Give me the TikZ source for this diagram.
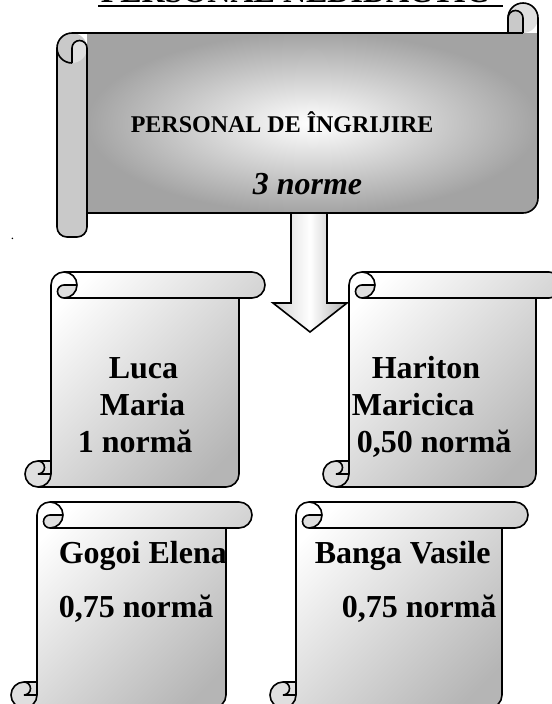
\documentclass[tikz,border=0pt]{standalone}
\usepackage{fontspec}
\setmainfont{Liberation Serif}

\pgfdeclarehorizontalshading{arrowshade}{100bp}{color(0bp)=(gray!35); color(25bp)=(gray!35); color(50bp)=(white); color(75bp)=(gray!62); color(100bp)=(gray!62)}

\tikzset{every picture/.style={line width=1.2pt}}
\tikzset{
  curl/.style={fill=gray!25},
  roll/.style={fill=gray!42},
  bigtxt/.style={font=\fontsize{24}{28}\selectfont\bfseries, inner sep=0pt, anchor=base west},
  pics/vscroll/.style n args={2}{code={
    %scroll face
    \shade [top color=white, bottom color=gray!58, shading angle=45] (26,{#2-26}) -- (26,13) arc (180:270:13) -- ({#1-13},0) arc (270:450:13) -- ({#1-26},26) -- ({#1-26},{#2-13}) arc (0:90:13) -- (13,#2) arc (90:270:13) -- cycle;
    %curls
    \fill [curl] (52,13) arc (0:90:13) arc (90:270:6.5) -- cycle;
    \fill [curl] (26,{#2-13}) arc (0:270:13) arc (270:450:6.5) -- cycle;
    %outline
    \draw [line join=round] (26,{#2-26}) -- (26,13) arc (180:270:13) -- ({#1-13},0) arc (270:450:13) -- ({#1-26},26) -- ({#1-26},{#2-13}) arc (0:90:13) -- (13,#2) arc (90:270:13) -- cycle;
    \draw (39,0) arc (270:450:13) arc (90:270:6.5) -- (52,13);
    \draw ({#1-26},26) -- (39,26);
    \draw (13,{#2-26}) arc (270:450:6.5) -- (26,{#2-13});
    \draw (13,#2) arc (90:0:13) -- (26,{#2-26});
  }}
}

\begin{document}
\begin{tikzpicture}[x=0.75pt,y=0.75pt,yscale=-1,xscale=1]
\useasboundingbox (0,0) rectangle (552,704);
\clip (0,0) rectangle (552,704);

%Shape: Horizontal Scroll [body]
\shade [inner color=white, outer color=gray!72] (87,33) -- (538,33) -- (538,198) arc (0:90:15) -- (87,213) -- cycle;
%Shape: Horizontal Scroll [left roll]
\fill [roll] (57,48) arc (180:360:15) -- (87,227) arc (0:90:10) -- (67,237) arc (90:180:10) -- cycle;
\fill [curl] (72,48) arc (180:360:7.5) arc (0:90:15) -- cycle;
%Shape: Horizontal Scroll [right roll]
\fill [curl] (523,18) circle (15);
\fill [roll] (508,33) -- (508,18) arc (180:360:7.5) -- (523,33) -- cycle;
%Shape: Horizontal Scroll [outline]
\draw [line join=round] (57,48) arc (180:270:15) -- (508,33) -- (508,18) arc (180:360:15) -- (538,198) arc (0:90:15) -- (87,213) -- (87,227) arc (0:90:10) -- (67,237) arc (90:180:10) -- cycle;
\draw (87,48) -- (87,213);
\draw (72,63) -- (72,48) arc (180:360:7.5);
\draw (57,48) arc (180:90:15);
\draw (523,33) -- (523,18);
\draw (508,18) arc (180:360:7.5);
\draw (508,33) -- (523,33);

%Shape: Down Arrow
\shade [shading=arrowshade] (291,213) -- (327,213) -- (327,303) -- (347,303) -- (310,332) -- (273,303) -- (291,303) -- cycle;
\draw [line join=miter] (291,213) -- (327,213) -- (327,303) -- (347,303) -- (310,332) -- (273,303) -- (291,303) -- cycle;

%Shape: Vertical Scrolls
\pic [transform shape] at (25,272) {vscroll={240}{215}};
\pic [transform shape] at (323,272) {vscroll={239}{215}};
\pic [transform shape] at (11,502) {vscroll={241}{206}};
\pic [transform shape] at (270,502) {vscroll={258}{206}};

% Text Node
\node (title) at (100,2.5) [bigtxt] {PERSONAL NEDIDACTIC};
\draw [line width=2pt] (98,6) -- (503,6);
% Text Node
\node (dot) at (10,239) [anchor=base west, inner sep=0pt, font=\fontsize{10}{10}\selectfont] {.};
% Text Node
\node (pers) at (130,132) [bigtxt, font=\fontsize{18}{21}\selectfont\bfseries] {PERSONAL DE ÎNGRIJIRE};
% Text Node
\node (norme) at (252,194) [bigtxt, font=\fontsize{24}{28}\selectfont\bfseries\itshape] {3 norme};

% Text Node
\node (luca) at (108,378) [bigtxt] {Luca};
\node (maria) at (99,415) [bigtxt] {Maria};
\node (lucanorma) at (77,452) [bigtxt] {1 normă};
% Text Node
\node (hariton) at (371,378) [bigtxt] {Hariton};
\node (maricica) at (351,415) [bigtxt] {Maricica};
\node (haritonnorma) at (356,452) [bigtxt] {0,50 normă};
% Text Node
\node (gogoi) at (58,563) [bigtxt] {Gogoi Elena};
\node (gogoinorma) at (58,617) [bigtxt] {0,75 normă};
% Text Node
\node (banga) at (314,563) [bigtxt] {Banga Vasile};
\node (banganorma) at (341,617) [bigtxt] {0,75 normă};

\end{tikzpicture}
\end{document}
